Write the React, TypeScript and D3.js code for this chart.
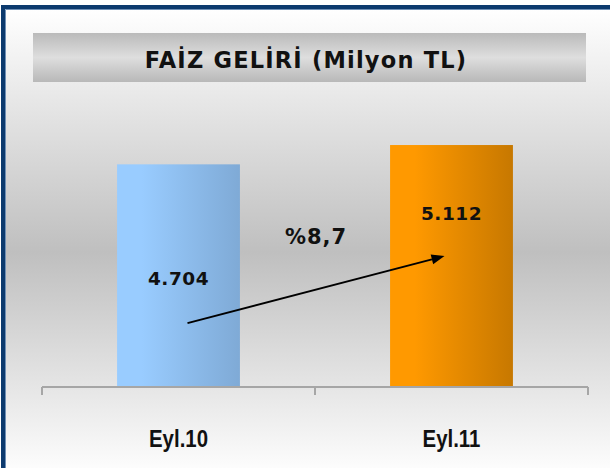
import React from "react";
import * as d3 from "d3";

const title = "FAİZ GELİRİ (Milyon TL)";
const categories = ["Eyl.10", "Eyl.11"];
const values = [4704, 5112];
const valueLabels = ["4.704", "5.112"];
const changeLabel = "%8,7";

const W = 610;
const H = 468;

export default function App() {
  const x = d3
    .scaleBand<string>()
    .domain(categories)
    .range([42, 588])
    .paddingInner(0.55)
    .paddingOuter(0.275);

  const y = d3.scaleLinear().domain([0, 6000]).range([387, 103]);

  const cx = (c: string) => (x(c) ?? 0) + x.bandwidth() / 2;

  // where the value labels sit, as share of the bar
  const labelAt = [0.46, 0.69];

  const barGrads = [
    { id: "gBlue", from: "#99ccff", to: "#7faad6" },
    { id: "gOrange", from: "#ff9900", to: "#c77800" },
  ];

  // arrow from first bar to second
  const a0 = [cx(categories[0]) + 9, y(values[0] * 0.287)];
  const a1 = [cx(categories[1]) - 7, y(values[1] * 0.541)];
  const ang = Math.atan2(a1[1] - a0[1], a1[0] - a0[0]);
  const headLen = 13;
  const headW = 5;
  const bx = a1[0] - headLen * Math.cos(ang);
  const by = a1[1] - headLen * Math.sin(ang);
  const head = [
    [a1[0], a1[1]],
    [bx - headW * Math.sin(ang), by + headW * Math.cos(ang)],
    [bx + headW * Math.sin(ang), by - headW * Math.cos(ang)],
  ];

  const ticks = [
    x.range()[0],
    ...categories.slice(1).map((c) => (x(c) ?? 0) - (x.step() * x.paddingInner()) / 2),
    x.range()[1],
  ];
  const [y0] = y.range();

  return (
    <svg
      width={W}
      height={H}
      style={{ position: "absolute", left: 0, top: 0, display: "block" }}
    >
      <defs>
        <linearGradient id="bg" x1="0" y1="0" x2="0" y2="1">
          <stop offset="0" stopColor="#ffffff" />
          <stop offset="0.52" stopColor="#bfbfbf" />
          <stop offset="1" stopColor="#ffffff" />
        </linearGradient>
        <linearGradient id="titleBg" x1="0" y1="0" x2="0" y2="1">
          <stop offset="0" stopColor="#bababa" />
          <stop offset="0.5" stopColor="#dedede" />
          <stop offset="1" stopColor="#b8b8b8" />
        </linearGradient>
        {barGrads.map((g) => (
          <linearGradient key={g.id} id={g.id} x1="0" y1="0" x2="1" y2="0">
            <stop offset="0" stopColor={g.from} />
            <stop offset="0.2" stopColor={g.from} />
            <stop offset="1" stopColor={g.to} />
          </linearGradient>
        ))}
      </defs>

      <rect x={0} y={0} width={W} height={H} fill="#ffffff" />
      <rect x={5} y={9} width={W} height={H} fill="url(#bg)" />
      <rect
        x={3}
        y={7}
        width={W + 20}
        height={H + 20}
        fill="none"
        stroke="#0c3a6e"
        strokeWidth={4}
      />
      <line x1={5.5} y1={9.5} x2={W} y2={9.5} stroke="#6f8fb5" strokeWidth={1} />
      <line x1={5.5} y1={9.5} x2={5.5} y2={H} stroke="#6f8fb5" strokeWidth={1} />

      <rect x={33} y={33} width={553} height={49} fill="url(#titleBg)" />
      <text
        x={306}
        y={68}
        textAnchor="middle"
        fontFamily="'DejaVu Sans', Verdana, sans-serif"
        fontWeight="bold"
        fontSize={22.5}
        letterSpacing={1.2}
        fill="#111"
      >
        {title}
      </text>

      {categories.map((c, i) => (
        <rect
          key={c}
          x={x(c)}
          y={y(values[i])}
          width={x.bandwidth()}
          height={y0 - y(values[i])}
          fill={`url(#${barGrads[i].id})`}
        />
      ))}

      <line x1={x.range()[0]} y1={y0} x2={x.range()[1]} y2={y0} stroke="#a6a6a6" strokeWidth={2} />
      {ticks.map((t, i) => (
        <line key={i} x1={t} y1={y0} x2={t} y2={y0 + 8} stroke="#a6a6a6" strokeWidth={2} />
      ))}

      {categories.map((c) => (
        <text
          key={c}
          transform={`translate(${cx(c)},447) scale(0.85,1)`}
          textAnchor="middle"
          fontFamily="'Liberation Sans Narrow', 'Arial Narrow', 'Liberation Sans', sans-serif"
          fontWeight="bold"
          fontSize={24}
          fill="#111"
        >
          {c}
        </text>
      ))}

      {categories.map((c, i) => (
        <text
          key={c}
          x={cx(c)}
          y={y(values[i] * labelAt[i])}
          textAnchor="middle"
          fontFamily="'DejaVu Sans', Verdana, sans-serif"
          fontWeight="bold"
          fontSize={18.5}
          letterSpacing={0.5}
          fill="#111"
        >
          {valueLabels[i]}
        </text>
      ))}

      <text
        x={ticks[1] + 1}
        y={y(3021)}
        textAnchor="middle"
        fontFamily="'DejaVu Sans', Verdana, sans-serif"
        fontWeight="bold"
        fontSize={21}
        letterSpacing={1}
        fill="#111"
      >
        {changeLabel}
      </text>

      <line x1={a0[0]} y1={a0[1]} x2={bx} y2={by} stroke="#000" strokeWidth={2} />
      <polygon points={head.map((p) => p.join(",")).join(" ")} fill="#000" />
    </svg>
  );
}
